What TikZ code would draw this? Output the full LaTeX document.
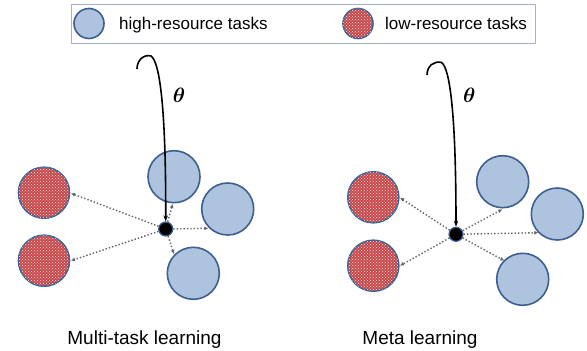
\documentclass[tikz,border=0pt]{standalone}
\usepackage{fontspec}
\setmainfont{Liberation Sans}
\usepackage{amsmath}
\usepackage{bm}
\usetikzlibrary{patterns,arrows.meta}
\definecolor{hiblue}{RGB}{173,195,222}
\definecolor{edgeblue}{RGB}{62,96,145}
\definecolor{lored}{RGB}{200,72,74}
\definecolor{legendedge}{RGB}{165,178,200}
\definecolor{arrowgray}{RGB}{100,100,100}
\begin{document}
\begin{tikzpicture}[x=1pt,y=-1pt,
  hitask/.style={circle,draw=edgeblue,line width=1.6pt,fill=hiblue,minimum size=52pt,inner sep=0pt},
  lotask/.style={circle,draw=edgeblue,line width=1.6pt,fill=lored,minimum size=51pt,inner sep=0pt,
     postaction={pattern=crosshatch dots,pattern color=white!85!lored}},
  legendhi/.style={hitask,minimum size=30pt},
  legendlo/.style={lotask,minimum size=30pt},
  shared/.style={circle,fill=black,draw=edgeblue,line width=1.2pt,minimum size=14pt,inner sep=0pt},
  taskarrow/.style={draw=arrowgray,dotted,line width=1.4pt,-{Latex[length=4pt,width=4pt]}},
  paramcurve/.style={draw=black,line width=1.6pt,-{Stealth[length=6pt,width=4.5pt]}},
  legendtext/.style={anchor=base west,font=\fontsize{17}{20}\selectfont,inner sep=0pt},
  paneltitle/.style={anchor=base,font=\fontsize{19}{22}\selectfont,inner sep=0pt},
  thetalabel/.style={font=\fontsize{20}{24}\selectfont,inner sep=0pt}
]
\useasboundingbox (0,0) rectangle (587,351);
% legend
\node[draw=legendedge,line width=0.8pt,minimum width=464pt,minimum height=39pt,inner sep=0pt] (legend) at (303,23.5) {};
\node[legendhi] (lh) at (89,23.5) {};
\node[legendtext] (lht) at (119,29.5) {high-resource tasks};
\node[legendlo] (ll) at (358,23.5) {};
\node[legendtext] (llt) at (385,29.5) {low-resource tasks};

% ---------- Multi-task learning ----------
\node[lotask] (mr1) at (44,192.7) {};
\node[lotask] (mr2) at (44,260.7) {};
\node[hitask] (mb1) at (174,176.7) {};
\node[hitask] (mb2) at (227.7,209) {};
\node[hitask] (mb3) at (193.3,273.3) {};
\node[shared] (md) at (165.7,229) {};
\coordinate (ma1) at (71,193.3);
\coordinate (ma2) at (71,260.7);
\coordinate (ma3) at (172.7,204);
\coordinate (ma4) at (208.3,228.3);
\coordinate (ma5) at (174,254);
\draw[taskarrow] (md) -- (ma1);
\draw[taskarrow] (md) -- (ma2);
\draw[taskarrow] (md) -- (ma3);
\draw[taskarrow] (md) -- (ma4);
\draw[taskarrow] (md) -- (ma5);
\coordinate (mc) at (137,69);
\draw[paramcurve] (mc) .. controls (137,60) and (144,54) .. (151,56) .. controls (160,62) and (166,110) .. (md.north);
\node[thetalabel] (mt) at (179,95) {$\bm{\theta}$};
\node[paneltitle] (mtitle) at (144.5,344) {Multi-task learning};

% ---------- Meta learning ----------
\node[lotask] (er1) at (373.3,197.3) {};
\node[lotask] (er2) at (373.3,265.7) {};
\node[hitask] (eb1) at (502.7,181.7) {};
\node[hitask] (eb2) at (557.3,214) {};
\node[hitask] (eb3) at (522.7,279.3) {};
\node[shared] (ed) at (456,234.3) {};
\coordinate (ea1) at (400,197.7);
\coordinate (ea2) at (400,265.7);
\coordinate (ea3) at (502.3,209.3);
\coordinate (ea4) at (538.3,232.7);
\coordinate (ea5) at (504.3,260.7);
\draw[taskarrow] (ed) -- (ea1);
\draw[taskarrow] (ed) -- (ea2);
\draw[taskarrow] (ed) -- (ea3);
\draw[taskarrow] (ed) -- (ea4);
\draw[taskarrow] (ed) -- (ea5);
\coordinate (ec) at (427,75);
\draw[paramcurve] (ec) .. controls (427,66) and (434,60.5) .. (441.5,62.5) .. controls (450,68) and (456,115) .. (ed.north);
\node[thetalabel] (et) at (469.3,95) {$\bm{\theta}$};
\node[paneltitle] (etitle) at (420,344) {Meta learning};
\end{tikzpicture}
\end{document}
